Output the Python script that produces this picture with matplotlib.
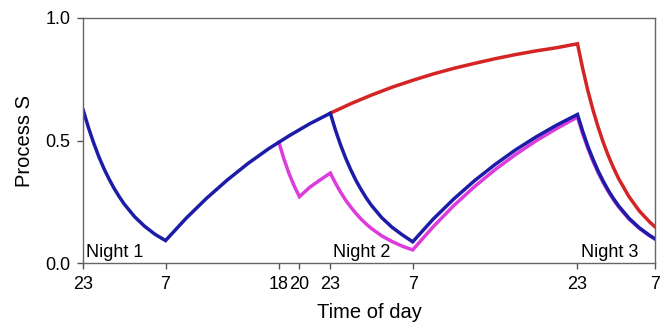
import matplotlib.pyplot as plt

plt.rcParams['font.family'] = ['Liberation Sans', 'DejaVu Sans']

# hours since 23:00 of night 1
tick_hours = [0, 8, 19, 21, 24, 32, 48, 55.5]
tick_labels = ['23', '7', '18', '20', '23', '7', '23', '7']

# blue: normal schedule
blue_h = [0, 0.5, 1, 1.5, 2, 2.5, 3, 3.5, 4, 5, 6, 7, 8,
          10, 12, 14, 16, 18, 20, 22, 24,
          24.5, 25, 25.5, 26, 26.5, 27, 27.5, 28, 29, 30, 31, 32,
          34, 36, 38, 40, 42, 44, 46, 48,
          48.5, 49, 49.5, 50, 50.5, 51, 51.5, 52, 53, 54, 55, 55.5]
blue_s = [0.625, 0.555, 0.493, 0.437, 0.388, 0.345, 0.306, 0.272, 0.241,
          0.190, 0.150, 0.118, 0.093,
          0.184, 0.266, 0.340, 0.407, 0.467, 0.520, 0.569, 0.612,
          0.543, 0.482, 0.428, 0.380, 0.337, 0.300, 0.266, 0.236,
          0.186, 0.147, 0.116, 0.088,
          0.181, 0.263, 0.337, 0.403, 0.463, 0.516, 0.564, 0.607,
          0.539, 0.478, 0.425, 0.377, 0.335, 0.297, 0.264, 0.234,
          0.184, 0.145, 0.114, 0.101]

# magenta: evening nap 18-20
mag_h = [19, 19.5, 20, 20.5, 21, 22, 23, 24,
         24.5, 25, 25.5, 26, 26.5, 27, 27.5, 28, 29, 30, 31, 32,
         34, 36, 38, 40, 42, 44, 46, 48,
         48.5, 49, 49.5, 50, 50.5, 51, 51.5, 52, 53, 54, 55, 55.5]
mag_s = [0.494, 0.425, 0.365, 0.315, 0.272, 0.310, 0.340, 0.368,
         0.327, 0.290, 0.257, 0.229, 0.203, 0.180, 0.160, 0.142,
         0.112, 0.089, 0.070, 0.055,
         0.150, 0.236, 0.313, 0.382, 0.444, 0.500, 0.550, 0.596,
         0.529, 0.470, 0.417, 0.370, 0.329, 0.292, 0.259, 0.230,
         0.181, 0.143, 0.113, 0.100]

# red: sleep deprivation night 2
red_h = [24, 26, 28, 30, 32, 34, 36, 38, 40, 42, 44, 46, 48,
         48.5, 49, 49.5, 50, 50.5, 51, 51.5, 52, 53, 54, 55, 55.5]
red_s = [0.612, 0.651, 0.686, 0.718, 0.746, 0.772, 0.795, 0.815, 0.834,
         0.851, 0.866, 0.879, 0.895,
         0.795, 0.705, 0.626, 0.556, 0.493, 0.438, 0.389, 0.345,
         0.272, 0.214, 0.169, 0.150]

fig = plt.figure(figsize=(6.6, 3.33), dpi=100)
ax = fig.add_axes([0.126, 0.209, 0.866, 0.737])

ax.plot(red_h, red_s, color='#d42424', lw=2.5, solid_joinstyle='miter')
ax.plot(mag_h, mag_s, color='#dc3cdc', lw=2.5, solid_joinstyle='miter')
ax.plot(blue_h, blue_s, color='#1c1ca8', lw=2.5, solid_joinstyle='miter')

ax.set_xlim(0, 55.5)
ax.set_ylim(0, 1.0)
ax.set_xticks(tick_hours)
ax.set_xticklabels(tick_labels)
ax.set_yticks([0.0, 0.5, 1.0])
ax.set_yticklabels(['0.0', '0.5', '1.0'])
ax.tick_params(labelsize=13, length=4, width=1, color='#555555', pad=5)

for sp in ax.spines.values():
    sp.set_color('#666666')
    sp.set_linewidth(1)

ax.text(0.3, 0.025, 'Night 1', fontsize=13)
ax.text(24.3, 0.025, 'Night 2', fontsize=13)
ax.text(48.3, 0.025, 'Night 3', fontsize=13)

ax.set_xlabel('Time of day', fontsize=14.5, labelpad=7)
ax.set_ylabel('Process S', fontsize=14.5, labelpad=8)

fig.savefig('out.png', dpi=100)
